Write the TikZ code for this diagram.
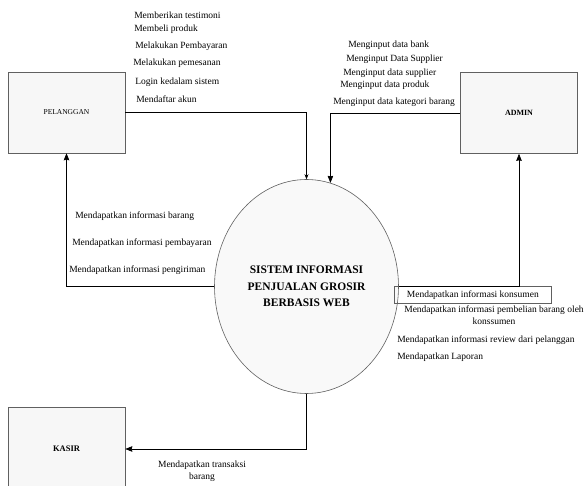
\documentclass[tikz,border=0pt]{standalone}
\usepackage{fontspec}
\setmainfont{Liberation Serif}
\usetikzlibrary{shapes.geometric, arrows.meta}
\begin{document}
\begin{tikzpicture}[>={Stealth[length=7pt, width=5.5pt, inset=0.5pt]}, x=1pt, y=-1pt, line width=0.6pt]
            \tikzset{entity/.style = {shape=rectangle, draw=gray!75!black, fill=gray!6, minimum width=117pt, minimum height=81pt, inner sep=0pt}}
            \tikzset{process/.style = {shape=ellipse, draw=gray!75!black, fill=gray!5, minimum width=184pt, minimum height=214pt, inner sep=0pt, align=center, font=\fontsize{11.5}{16.5}\selectfont\bfseries}}
            \tikzset{flow/.style = {anchor=west, inner sep=0pt, font=\fontsize{9.5}{12.5}\selectfont}}

            \useasboundingbox (0,0) rectangle (587,486);

            \node[entity, font=\fontsize{7.5}{9}\selectfont] (pelanggan) at (66.5,112.5) {PELANGGAN};
            \node[entity, font=\fontsize{8}{9}\selectfont\bfseries] (admin) at (519,113) {ADMIN};
            \node[entity, minimum height=84pt, font=\fontsize{8.5}{9}\selectfont\bfseries] (kasir) at (66.5,449) {KASIR};
            \node[process] (sistem) at (306.5,286.5) {SISTEM INFORMASI\\PENJUALAN GROSIR\\BERBASIS WEB};

            \node[flow] (testimoni) at (134,15) {Memberikan testimoni};
            \node[flow] (beli) at (134,29) {Membeli produk};
            \node[flow] (bayar) at (135,46) {Melakukan Pembayaran};
            \node[flow] (pesan) at (133,63) {Melakukan pemesanan};
            \node[flow] (login) at (135,82) {Login kedalam sistem};
            \node[flow] (daftar) at (136,99) {Mendaftar akun};

            \node[flow] (bank) at (348,45) {Menginput data bank};
            \node[flow] (supplier1) at (346,59) {Menginput Data Supplier};
            \node[flow] (supplier2) at (343,73) {Menginput data supplier};
            \node[flow] (produk) at (340,85) {Menginput data produk};
            \node[flow] (kategori) at (333,102) {Menginput data kategori barang};

            \node[flow] (infobarang) at (75,216) {Mendapatkan informasi barang};
            \node[flow] (infobayar) at (72,243) {Mendapatkan informasi pembayaran};
            \node[flow] (infokirim) at (69,270) {Mendapatkan informasi pengiriman};

            \node[flow, anchor=north west, draw=gray!75!black, minimum width=157pt, minimum height=17pt] (konsumen) at (394,286.5) {Mendapatkan informasi konsumen};
            \node[flow, anchor=center, align=center] (pembelian) at (494,315) {Mendapatkan informasi pembelian barang oleh\\konssumen};
            \node[flow] (review) at (397,340) {Mendapatkan informasi review dari pelanggan};
            \node[flow] (laporan) at (397,357) {Mendapatkan Laporan};

            \node[flow, anchor=center, align=center] (transaksi) at (202,471) {Mendapatkan transaksi\\barang};

            \draw[-{Stealth[length=5pt, width=4pt]}] (pelanggan.east) -| (sistem.north);
            \draw[->] (admin.west) -| (sistem.77);
            \draw[->] (sistem.west) -| (pelanggan.south);
            \draw[->] (sistem.east) -| (admin.south);
            \draw[->] (sistem.south) |- (kasir.east);
        \end{tikzpicture}
\end{document}
